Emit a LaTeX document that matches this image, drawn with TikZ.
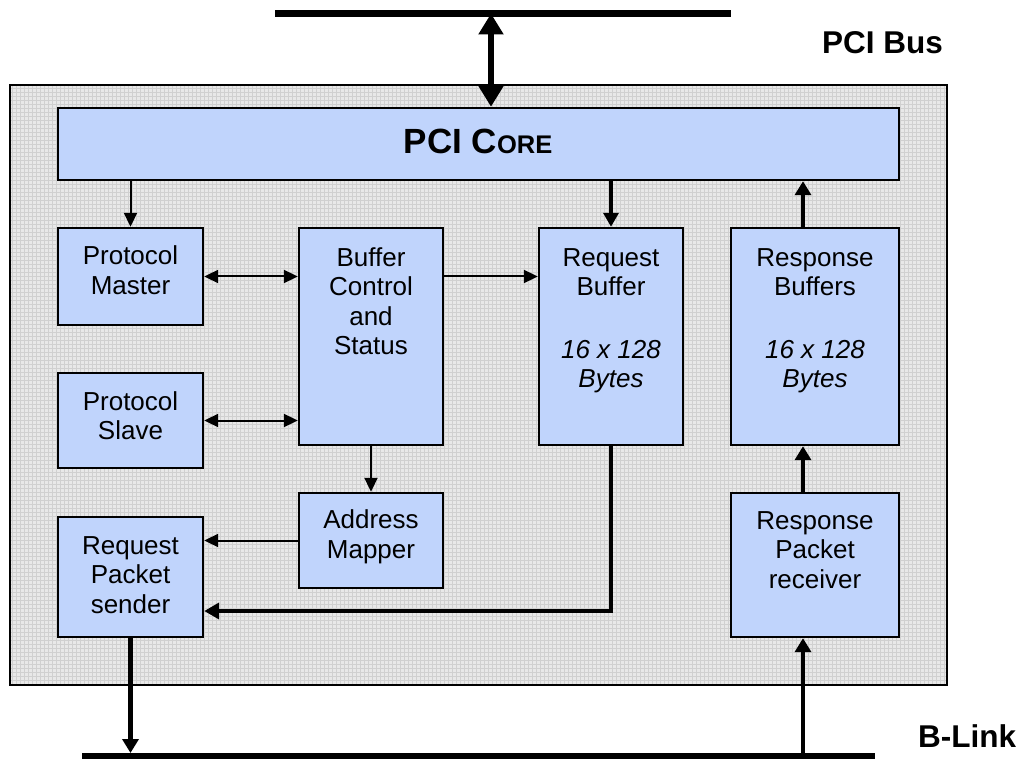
\documentclass[tikz,border=0pt]{standalone}
\usepackage{fontspec}
\setmainfont{Liberation Sans}
\usetikzlibrary{arrows.meta}
\definecolor{boxblue}{RGB}{192,212,252}
\definecolor{bggray}{RGB}{232,232,232}
\definecolor{gridgray}{RGB}{208,208,208}
\tikzset{
  blk/.style={draw=black, line width=2.4pt, fill=boxblue, inner sep=0pt},
  lbl/.style={align=center, inner sep=0pt, anchor=north, font=\fontsize{26}{29.5}\selectfont},
  thin/.style={line width=2pt},
  thinhead/.style={-{Triangle[length=14pt,width=13pt]}},
  thindouble/.style={{Triangle[length=14pt,width=13pt]}-{Triangle[length=14pt,width=13pt]}},
  med/.style={line width=3.5pt, -{Triangle[length=14pt,width=15pt]}},
  thick/.style={line width=4.2pt, -{Triangle[length=14pt,width=16pt]}},
  bus/.style={line width=6.5pt},
  buslbl/.style={font=\fontsize{31.5}{31.5}\selectfont\bfseries, anchor=base west, inner sep=0pt}
}
\begin{document}
\begin{tikzpicture}[x=1pt,y=-1pt]
\useasboundingbox (0,0) rectangle (1023,759);
% background panel
\fill[bggray] (10,85) rectangle (947,685);
\foreach \x in {12,16,...,944} \draw[gridgray, line width=0.6pt] (\x,85) -- (\x,685);
\foreach \y in {88,92,...,684} \draw[gridgray, line width=0.6pt] (10,\y) -- (947,\y);
\draw[line width=2pt] (10,85) rectangle (947,685);

% buses
\coordinate (pciL) at (275,13.5);
\coordinate (pciR) at (731,13.5);
\coordinate (pciT) at (491,13.5);
\draw[bus] (pciL) -- (pciR);
\coordinate (blL) at (82,756.5);
\coordinate (blR) at (875,756.5);
\draw[bus] (blL) -- (blR);
\node[buslbl] (pcibus) at (822,54) {PCI Bus};
\node[buslbl] (blink) at (918,747) {B-Link};

% blocks
\node[blk, minimum width=841pt, minimum height=72pt] (core) at (478.5,144) {};
\node[inner sep=0pt, anchor=base, font=\bfseries] (coret) at (478,154)
  {\fontsize{35}{35}\selectfont PCI C\fontsize{25.5}{25.5}\selectfont ORE};
\node[blk, minimum width=145pt, minimum height=97pt] (pm) at (130.5,276.5) {};
\node[blk, minimum width=145pt, minimum height=95pt] (ps) at (130.5,420.5) {};
\node[blk, minimum width=144pt, minimum height=217pt] (bc) at (371,336.5) {};
\node[blk, minimum width=144pt, minimum height=217pt] (rb) at (611,336.5) {};
\node[blk, minimum width=168pt, minimum height=217pt] (rsb) at (815,336.5) {};
\node[blk, minimum width=144pt, minimum height=95pt] (am) at (371,540.5) {};
\node[blk, minimum width=145pt, minimum height=120pt] (rps) at (130.5,577) {};
\node[blk, minimum width=168pt, minimum height=144pt] (rpr) at (815,565) {};

\node[lbl] (pmt) at ([yshift=-17pt]pm.north) {\strut Protocol\\Master};
\node[lbl] (pst) at ([yshift=-17.5pt]ps.north) {\strut Protocol\\Slave};
\node[lbl] (bct) at ([yshift=-18.5pt]bc.north) {\strut Buffer\\Control\\and\\Status};
\node[lbl] (rbt) at ([yshift=-18.5pt]rb.north) {\strut Request\\Buffer\\[33pt]\textit{16 x 128}\\\textit{Bytes}};
\node[lbl] (rsbt) at ([yshift=-18.5pt]rsb.north) {\strut Response\\Buffers\\[33pt]\textit{16 x 128}\\\textit{Bytes}};
\node[lbl] (amt) at ([yshift=-16pt]am.north) {\strut Address\\Mapper};
\node[lbl] (rpst) at ([yshift=-17.5pt]rps.north) {\strut Request\\Packet\\sender};
\node[lbl] (rprt) at ([yshift=-16.5pt]rpr.north) {\strut Response\\Packet\\receiver};

% connectors
\draw[line width=6pt, {Triangle[length=21pt,width=24pt]}-{Triangle[length=21pt,width=24pt]}]
  (pciT) -- (pciT |- core.north);
\draw[thin, thinhead] (pm.north |- core.south) -- (pm.north);
\draw[med] (rb.north |- core.south) -- (rb.north);
\draw[thick] ([xshift=-12pt]rsb.north) -- ([xshift=-12pt]rsb.north |- core.south);
\draw[thin, thindouble] (pm.east) -- (pm.east -| bc.west);
\draw[thin, thindouble] (ps.east) -- (ps.east -| bc.west);
\draw[thin, thinhead] (pm.east -| bc.east) -- (pm.east -| rb.west);
\draw[thin, thinhead] (bc.south) -- (am.north);
\draw[thin, thinhead] (am.west) -- (am.west -| rps.east);
\draw[line width=4.6pt, -{Triangle[length=15pt,width=16pt]}]
  (rb.south) |- ([yshift=-34pt]rps.east);
\draw[thick] (rps.south) -- (rps.south |- 0,753);
\draw[thick] ([xshift=-12pt]rpr.south |- blL) -- ([xshift=-12pt]rpr.south);
\draw[thick] ([xshift=-12pt]rpr.north) -- ([xshift=-12pt]rsb.south);
\end{tikzpicture}
\end{document}
